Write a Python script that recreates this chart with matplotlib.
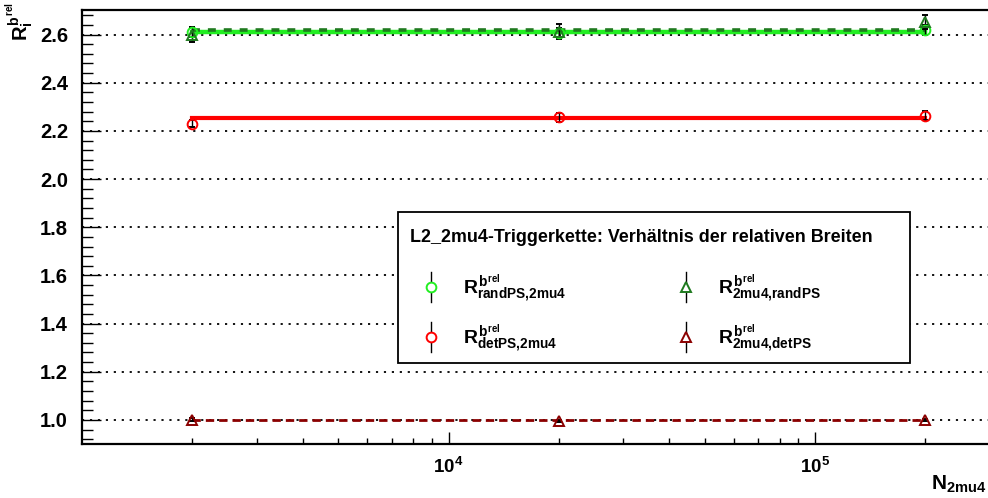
import matplotlib
matplotlib.use("Agg")
import matplotlib.pyplot as plt
from matplotlib.ticker import FixedLocator, FuncFormatter, MultipleLocator, LogLocator
from matplotlib.patches import Rectangle
import numpy as np

plt.rcParams['font.family'] = ['Liberation Sans', 'DejaVu Sans']
plt.rcParams['font.weight'] = 'bold'
plt.rcParams['mathtext.fontset'] = 'custom'
plt.rcParams['mathtext.rm'] = 'Liberation Sans:bold'
plt.rcParams['mathtext.it'] = 'Liberation Sans:bold'
plt.rcParams['mathtext.bf'] = 'Liberation Sans:bold'
plt.rcParams['mathtext.sf'] = 'Liberation Sans:bold'

# ---- data ----
n_2mu4 = [2000, 20000, 200000]
r_randps_2mu4 = [2.612, 2.606, 2.618]
e_randps_2mu4 = [0.02, 0.02, 0.02]
r_2mu4_randps = [2.600, 2.612, 2.652]
e_2mu4_randps = [0.03, 0.03, 0.03]
r_detps_2mu4 = [2.230, 2.257, 2.264]
e_detps_2mu4 = [0.015, 0.018, 0.018]
r_2mu4_detps = [1.001, 0.996, 0.999]
e_2mu4_detps = [0.005, 0.005, 0.005]
fit_randps_2mu4 = 2.611
fit_2mu4_randps = 2.619
fit_detps_2mu4 = 2.252
fit_2mu4_detps = 1.000

x_major_ticks = [1e4, 1e5]
labels = [r'$R^{b^{rel}}_{randPS{,}2mu4}$', r'$R^{b^{rel}}_{2mu4{,}randPS}$',
          r'$R^{b^{rel}}_{detPS{,}2mu4}$', r'$R^{b^{rel}}_{2mu4{,}detPS}$']
legend_title = 'L2_2mu4-Triggerkette: Verhältnis der relativen Breiten'

c_green = '#22ee22'
c_dgreen = '#1f7a1f'
c_red = '#ff0000'
c_dred = '#8b0000'

fig = plt.figure(figsize=(9.88, 4.98), dpi=100)
W, H = 988, 498
ax_l, ax_r, ax_t, ax_b = 82, 990, 10.5, 444
ax = fig.add_axes([ax_l / W, 1 - ax_b / H, (ax_r - ax_l) / W, (ax_b - ax_t) / H])

ax.set_xscale('log')
ax.set_xlim(1000, 3.0e5)
ax.set_ylim(0.9, 2.7)

# grid
for yv in np.arange(1.0, 2.61, 0.2):
    ax.axhline(yv, color='black', lw=1.3, ls=(0, (1.2, 3.2)), zorder=0)

# fit lines
xl = [n_2mu4[0], n_2mu4[-1]]
ax.plot(xl, [fit_randps_2mu4] * 2, color=c_green, lw=3.2, zorder=2)
ax.plot(xl, [fit_2mu4_randps] * 2, color=c_dgreen, lw=2.6, ls=(0, (2.2, 2.2)), zorder=3)
ax.plot(xl, [fit_detps_2mu4] * 2, color=c_red, lw=3.0, zorder=2)
ax.plot(xl, [fit_2mu4_detps] * 2, color=c_dred, lw=2.0, ls=(0, (3, 1.8)), zorder=3)

series = [
    (r_randps_2mu4, e_randps_2mu4, 'o', c_green),
    (r_2mu4_randps, e_2mu4_randps, '^', c_dgreen),
    (r_detps_2mu4, e_detps_2mu4, 'o', c_red),
    (r_2mu4_detps, e_2mu4_detps, '^', c_dred),
]
for vals, errs, m, c in series:
    ax.errorbar(n_2mu4, vals, yerr=errs, fmt=m, mfc='none', mec=c, mew=1.4, ms=7,
                ecolor='black', elinewidth=1.0, capsize=2.5, capthick=1.0, zorder=4)

# axes style
for s in ['left', 'bottom', 'top']:
    ax.spines[s].set_linewidth(1.6)
ax.spines['right'].set_visible(False)
ax.yaxis.set_major_locator(MultipleLocator(0.2))
ax.yaxis.set_minor_locator(MultipleLocator(0.04))
ax.yaxis.set_major_formatter(FuncFormatter(lambda v, p: f'{v:.1f}'))
ax.xaxis.set_major_locator(FixedLocator(x_major_ticks))
ax.xaxis.set_minor_locator(LogLocator(base=10, subs=np.arange(2, 10), numticks=20))
ax.xaxis.set_minor_formatter(FuncFormatter(lambda v, p: ''))
ax.xaxis.set_major_formatter(FuncFormatter(lambda v, p: r'$10^{%d}$' % round(np.log10(v))))
ax.tick_params(axis='y', which='major', direction='in', length=14, width=1.0, pad=10,
               labelsize=14.5, right=False)
ax.tick_params(axis='y', which='minor', direction='in', length=8, width=1.0, right=False)
ax.tick_params(axis='x', which='major', direction='in', length=9, width=1.0, pad=9,
               labelsize=13.5, top=False)
ax.tick_params(axis='x', which='minor', direction='in', length=4.5, width=1.0, top=False)
for lab in ax.get_yticklabels() + ax.get_xticklabels():
    lab.set_fontweight('bold')

# legend (manual box)
T = ax.transAxes
def fx(px):
    return (px - ax_l) / (ax_r - ax_l)
def fy(py):
    return (ax_b - py) / (ax_b - ax_t)

ax.add_patch(Rectangle((fx(398), fy(363)), fx(910) - fx(398), fy(212) - fy(363),
                       transform=T, facecolor='white', edgecolor='black', lw=1.3, zorder=6))
ax.text(fx(410), fy(237), legend_title, transform=T, fontsize=12.9, fontweight='bold',
        ha='left', va='center', zorder=7)
pos = [(431, 463, 287), (686, 718, 287), (431, 463, 337), (686, 718, 337)]
for (vals, errs, m, c), lab, (mx, tx, ry) in zip(series, labels, pos):
    ax.plot([fx(mx)] * 2, [fy(ry - 15), fy(ry + 15)], transform=T, color='black', lw=1.0, zorder=7)
    ax.plot([fx(mx)], [fy(ry)], transform=T, marker=m, mfc='white', mec=c, mew=1.4, ms=7,
            ls='none', zorder=8)
    ax.text(fx(tx), fy(ry + 2), lab, transform=T, fontsize=14, ha='left', va='center', zorder=7)

# axis titles
fig.text(20 / W, 1 - 2 / H, r'$R^{b^{rel}}_{i}$', rotation=90, fontsize=14.5, ha='center', va='top')
fig.text(986 / W, 3 / H, r'$N_{2mu4}$', fontsize=15, ha='right', va='bottom')

fig.savefig('out.png', dpi=100)
